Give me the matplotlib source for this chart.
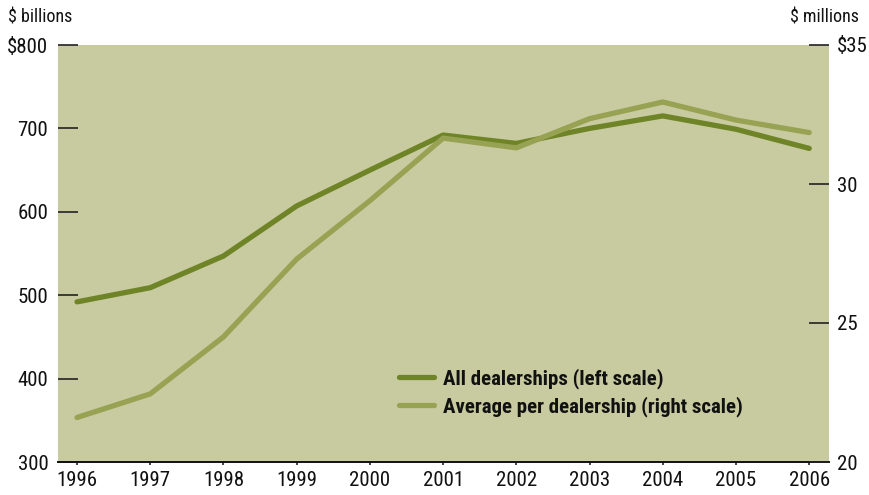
import matplotlib
matplotlib.use('Agg')
import matplotlib.pyplot as plt
from matplotlib import font_manager as fm

# pick a narrow face if one is installed (reference uses a condensed gothic)
names = sorted({f.name for f in fm.fontManager.ttflist})
prefs = ['Liberation Sans Narrow', 'Roboto Condensed', 'Noto Sans Condensed',
         'Open Sans Condensed', 'DejaVu Sans Condensed']
chosen = next((p for p in prefs if p in names), None)
if chosen is None:
    chosen = next((n for n in names if 'Condensed' in n or 'Narrow' in n), None)
narrow_faces = [f for f in fm.fontManager.ttflist
                if 'condensed' in str(f.stretch) or 'Condensed' in f.fname or 'Narrow' in f.fname]
if chosen is None and narrow_faces:
    chosen = narrow_faces[0].name
plt.rcParams['font.family'] = [chosen, 'DejaVu Sans'] if chosen else ['DejaVu Sans']
plt.rcParams['font.stretch'] = 'condensed'
narrow = chosen is not None or bool(narrow_faces)
fs = 15 if narrow else 12
lfs = 13 if narrow else 11
legfs = 15 if narrow else 12

# data
years = [1996, 1997, 1998, 1999, 2000, 2001, 2002, 2003, 2004, 2005, 2006]
all_dealers = [492, 509, 547, 607, 650, 692, 682, 700, 715, 699, 676]          # $ billions
avg_dealer = [21.6, 22.45, 24.5, 27.3, 29.4, 31.65, 31.3, 32.35, 32.95, 32.3, 31.85]  # $ millions

left_ticks = [300, 400, 500, 600, 700, 800]
left_labels = ['300', '400', '500', '600', '700', '$800']
right_ticks = [20, 25, 30, 35]
right_labels = ['20', '25', '30', '$35']

dark = '#6E8427'
light = '#97A253'
bg = '#C8CBA0'
tick_col = '#222222'

W, H = 869, 495
fig = plt.figure(figsize=(W / 100, H / 100), dpi=100)
ax = fig.add_axes([58 / W, (H - 462) / H, (829 - 58) / W, (462 - 45) / H])
ax.set_facecolor(bg)
ax2 = ax.twinx()
ax2.patch.set_visible(False)

l1, = ax.plot(years, all_dealers, color=dark, lw=3.8, solid_capstyle='round',
              label='All dealerships (left scale)')
l2, = ax2.plot(years, avg_dealer, color=light, lw=3.8, solid_capstyle='round',
               label='Average per dealership (right scale)')

ax.set_xlim(1995.74, 2006.27)
ax.set_ylim(300, 800)
ax2.set_ylim(20, 35)

ax.set_xticks(years)
ax.set_xticklabels([str(y) for y in years])
ax.set_yticks(left_ticks)
ax.set_yticklabels(left_labels)
ax2.set_yticks(right_ticks)
ax2.set_yticklabels(right_labels)

for a in (ax, ax2):
    for s in ('top', 'left', 'right', 'bottom'):
        a.spines[s].set_visible(False)
ax.spines['bottom'].set_visible(True)
ax.spines['bottom'].set_color('#111111')
ax.spines['bottom'].set_linewidth(1.4)

ax.tick_params(axis='y', direction='in', length=14.4, width=1.2, color=tick_col,
               labelsize=fs, pad=7, labelcolor='#111111')
ax2.tick_params(axis='y', direction='in', length=14.4, width=1.2, color=tick_col,
                labelsize=fs, pad=6, labelcolor='#111111')
ax.tick_params(axis='x', direction='out', length=2.5, width=1.2, color=tick_col,
               labelsize=fs, pad=4, labelcolor='#111111')

fig.text(8 / W, 1 - 17 / H, '$ billions', fontsize=lfs, va='center', ha='left', color='#111111')
fig.text(859 / W, 1 - 17 / H, '$ millions', fontsize=lfs, va='center', ha='right', color='#111111')

leg = fig.legend(handles=[l1, l2], loc='upper left', bbox_to_anchor=(399 / W, 1 - 368 / H),
                 frameon=False, prop={'weight': 'bold', 'size': legfs}, handlelength=1.7,
                 handletextpad=0.43, labelspacing=0.38, borderpad=0, borderaxespad=0)
for t in leg.get_texts():
    t.set_color('#111111')

fig.savefig('out.png', dpi=100)
